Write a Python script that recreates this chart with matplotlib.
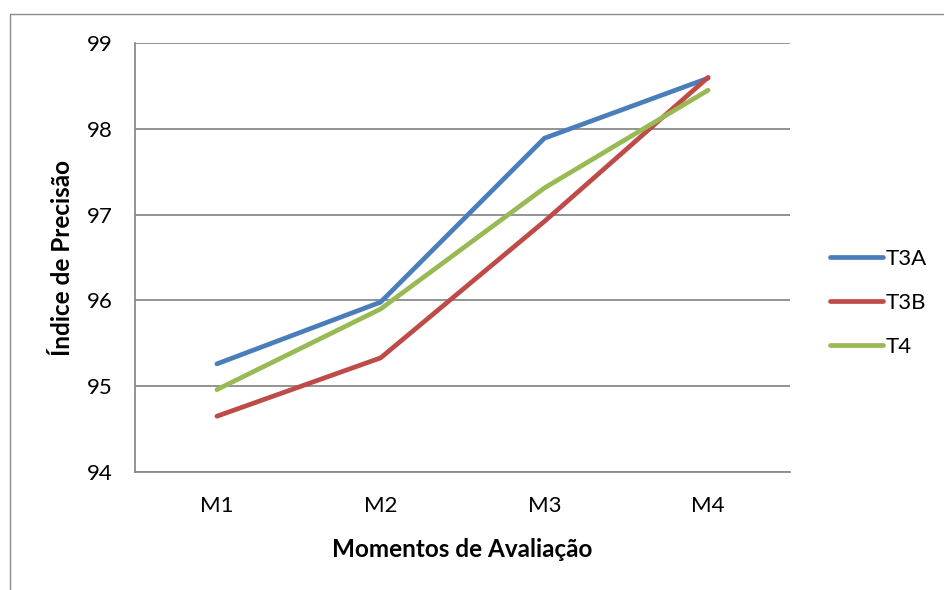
import matplotlib.pyplot as plt
from matplotlib.patches import Rectangle

plt.rcParams['font.family'] = ['Lato', 'DejaVu Sans']

categories = ["M1", "M2", "M3", "M4"]
t3a = [95.26, 95.98, 97.89, 98.59]
t3b = [94.65, 95.33, 96.92, 98.60]
t4 = [94.96, 95.90, 97.31, 98.45]
y_ticks = [94, 95, 96, 97, 98, 99]

series = [("T3A", t3a, "#4A7EBB"), ("T3B", t3b, "#BE4B48"), ("T4", t4, "#98B954")]

W, H = 944, 590
fig = plt.figure(figsize=(W / 100, H / 100), dpi=100)

# chart frame
fig.patches.append(Rectangle((10 / W, -0.1), 1.1, 1 - 14 / H + 0.1,
                             transform=fig.transFigure, fill=False,
                             edgecolor="#8C8C8C", linewidth=1.0))

ax = fig.add_axes([135 / W, 1 - 472 / H, (790 - 135) / W, (472 - 43) / H])
x = list(range(len(categories)))
for name, vals, color in series:
    ax.plot(x, vals, color=color, linewidth=3.4, label=name,
            solid_capstyle="round", solid_joinstyle="miter")

ax.set_xlim(-0.5, len(categories) - 0.5)
ax.set_ylim(y_ticks[0], y_ticks[-1])
ax.set_yticks(y_ticks)
ax.set_xticks(x)
ax.set_xticklabels(categories)
ax.yaxis.grid(True, color="#8A8A8A", linewidth=1.3)
ax.set_axisbelow(True)
for s in ("top", "right"):
    ax.spines[s].set_visible(False)
for s in ("left", "bottom"):
    ax.spines[s].set_color("#8A8A8A")
    ax.spines[s].set_linewidth(1.3)
ax.tick_params(axis="both", length=0, labelsize=16, colors="black")
ax.tick_params(axis="y", pad=16)
ax.tick_params(axis="x", pad=17)

ax.set_xlabel("Momentos de Avaliação", fontsize=17.5, fontweight="bold", labelpad=16)
ax.set_ylabel("Índice de Precisão", fontsize=17.5, fontweight="bold", labelpad=9)

leg = ax.legend(loc="center left", bbox_to_anchor=(1.061, 0.394), frameon=False,
                fontsize=16, handlelength=2.4, handletextpad=0.1,
                labelspacing=1.08, borderpad=0, borderaxespad=0)

fig.savefig("out.png", dpi=100, facecolor="white")
